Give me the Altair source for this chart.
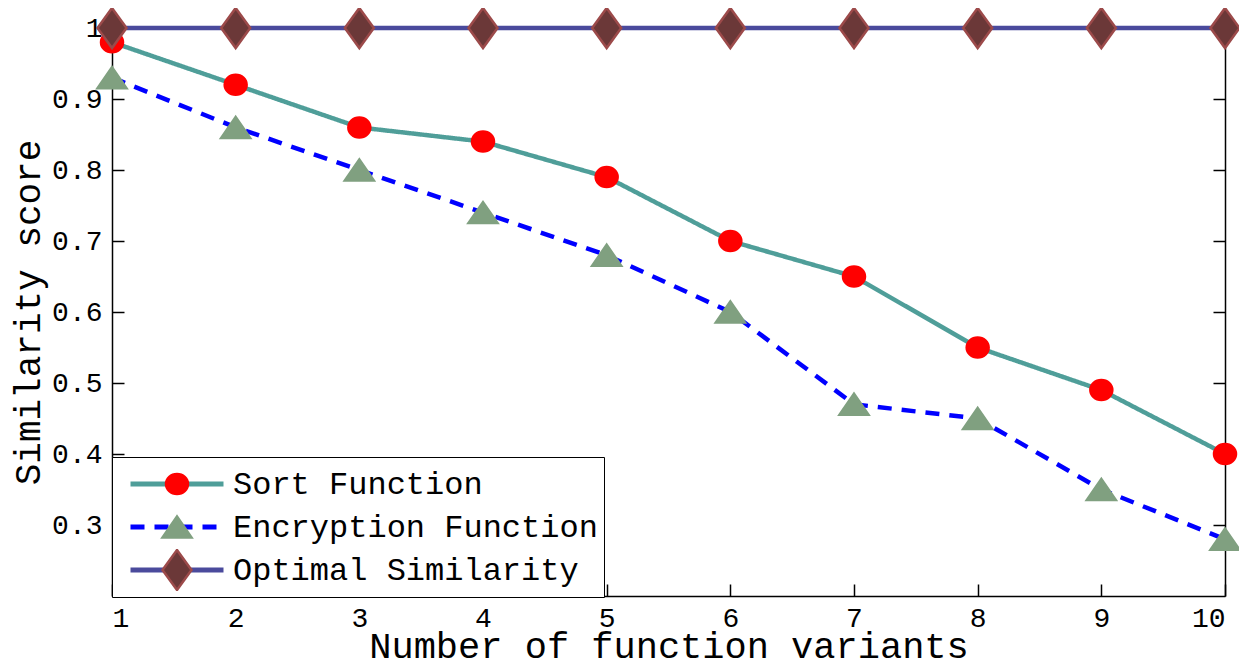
import altair as alt
import pandas as pd

x_vals = [1, 2, 3, 4, 5, 6, 7, 8, 9, 10]
sort_vals = [0.98, 0.92, 0.86, 0.84, 0.79, 0.70, 0.65, 0.55, 0.49, 0.40]
enc_vals = [0.93, 0.86, 0.80, 0.74, 0.68, 0.60, 0.47, 0.45, 0.35, 0.28]
opt_vals = [1.0, 1.0, 1.0, 1.0, 1.0, 1.0, 1.0, 1.0, 1.0, 1.0]
series_names = ["Sort Function", "Encryption Function", "Optimal Similarity"]
y_ticks = [0.3, 0.4, 0.5, 0.6, 0.7, 0.8, 0.9, 1.0]
x_ticks = [1, 2, 3, 4, 5, 6, 7, 8, 9, 10]

line_colors = ["#4f9e99", "#0000ff", "#4a4a9c"]
dashes = [[1, 0], [14, 10], [1, 0]]
fill_colors = ["#ff0000", "#80a080", "#6b3838"]
stroke_colors = ["#ff0000", "#80a080", "#9c4a4a"]
shapes = [
    "M0.55,0A0.55,0.5,0,1,1,-0.55,0A0.55,0.5,0,1,1,0.55,0Z",
    "M0,-0.525L0.725,0.525L-0.725,0.525Z",
    "M0,-1L0.725,0L0,1L-0.725,0Z",
]

rows = []
for name, vals in zip(series_names, [sort_vals, enc_vals, opt_vals]):
    for xv, yv in zip(x_vals, vals):
        rows.append({"x": xv, "y": yv, "series": name, "series_m": name})
df = pd.DataFrame(rows)

# marker scales use the names in alphabetical order (keeps their legend separate
# from the line legend); the legend itself lists them in the original order
m_order = sorted(range(len(series_names)), key=lambda i: series_names[i])
m_domain = [series_names[i] for i in m_order]
m_fill = [fill_colors[i] for i in m_order]
m_stroke = [stroke_colors[i] for i in m_order]
m_shape = [shapes[i] for i in m_order]

W, H = 1113, 568
FONT = "Liberation Mono"

xscale = alt.Scale(domain=[1, 10], nice=False, zero=False)
yscale = alt.Scale(domain=[0.2, 1.0], nice=False, zero=False)

common_legend = dict(
    title=None, orient="none", legendY=429, padding=6,
    labelFont=FONT, labelFontSize=32, labelColor="black",
    labelLimit=600, clipHeight=42, rowPadding=1, direction="vertical",
    values=series_names,
)

line_legend = alt.Legend(
    legendX=0, symbolType="stroke", symbolSize=8649, symbolStrokeWidth=5,
    symbolOffset=10, labelOffset=7, fillColor="white", strokeColor="black",
    zindex=1, **common_legend,
)
pt_legend = alt.Legend(
    legendX=37.5, symbolSize=1600, symbolStrokeWidth=2.5, symbolOffset=0,
    labelOffset=7, labelExpr="''", zindex=2, **common_legend,
)

base = alt.Chart(df)

lines = base.mark_line(strokeWidth=4.5).encode(
    x=alt.X("x:Q", scale=xscale, axis=alt.Axis(
        orient="bottom", values=x_ticks, ticks=False, grid=False,
        domainColor="black", domainWidth=1.5, labelFont=FONT, labelFontSize=28,
        labelColor="black", labelPadding=8, title="Number of function variants",
        titleFont=FONT, titleFontSize=37, titleFontWeight="normal",
        titleColor="black", titleBaseline="alphabetic", titlePadding=25)),
    y=alt.Y("y:Q", scale=yscale, axis=alt.Axis(
        orient="left", values=y_ticks, format=".1~f", ticks=False, grid=False,
        domainColor="black", domainWidth=1.5, labelFont=FONT, labelFontSize=28,
        labelColor="black", labelPadding=10, title="Similarity score",
        titleFont=FONT, titleFontSize=36, titleFontWeight="normal",
        titleColor="black", titlePadding=4)),
    color=alt.Color("series:N", scale=alt.Scale(domain=series_names, range=line_colors),
                    legend=line_legend),
    strokeDash=alt.StrokeDash("series:N", scale=alt.Scale(domain=series_names, range=dashes),
                              legend=line_legend),
)

points = base.mark_point(filled=True, size=1600, strokeWidth=2.5, opacity=1).encode(
    x=alt.X("x:Q", scale=xscale, axis=alt.Axis(
        orient="top", offset=-H, values=x_ticks, tickSize=12, tickWidth=1.5,
        tickColor="black", labels=False, domain=False, grid=False, title=None)),
    y=alt.Y("y:Q", scale=yscale, axis=alt.Axis(
        orient="right", offset=-W, values=y_ticks, tickSize=12, tickWidth=1.5,
        tickColor="black", labels=False, domain=False, grid=False, title=None)),
    fill=alt.Fill("series_m:N", scale=alt.Scale(domain=m_domain, range=m_fill),
                  legend=pt_legend),
    stroke=alt.Stroke("series_m:N", scale=alt.Scale(domain=m_domain, range=m_stroke),
                      legend=pt_legend),
    shape=alt.Shape("series_m:N", scale=alt.Scale(domain=m_domain, range=m_shape),
                    legend=pt_legend),
)

frame = base.mark_point(opacity=0).encode(
    x=alt.X("x:Q", scale=xscale, axis=alt.Axis(
        orient="bottom", offset=-H, values=x_ticks, tickSize=12, tickWidth=1.5,
        tickColor="black", labels=False, domain=True, domainColor="black",
        domainWidth=1.5, grid=False, title=None)),
    y=alt.Y("y:Q", scale=yscale, axis=alt.Axis(
        orient="left", offset=-W, values=y_ticks, tickSize=12, tickWidth=1.5,
        tickColor="black", labels=False, domain=True, domainColor="black",
        domainWidth=1.5, grid=False, title=None)),
)

chart = alt.layer(frame, lines, points).resolve_axis(
    x="independent", y="independent"
).properties(
    width=W, height=H,
    autosize=alt.AutoSizeParams(type="none"),
    padding={"left": 104, "top": 20, "right": 14, "bottom": 68},
    background="white",
).configure_view(stroke=None)

chart.save("out.html", embed_options={"renderer": "svg", "actions": False})
